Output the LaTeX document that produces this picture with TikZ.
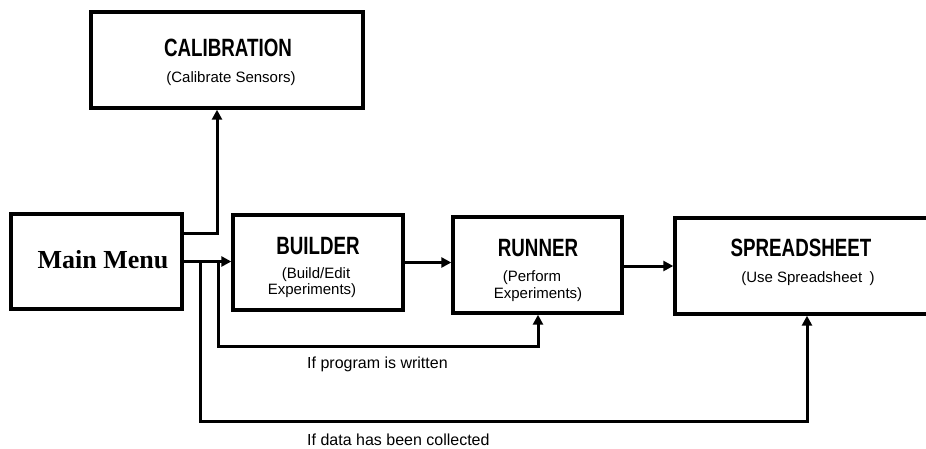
\documentclass[tikz,border=0pt]{standalone}
\usepackage{fontspec}
\setmainfont{Liberation Sans}
\newfontfamily\titlefont[FakeStretch=0.75]{Liberation Sans}
\newfontfamily\menufont{Liberation Serif}
\usetikzlibrary{arrows.meta}
\begin{document}
\begin{tikzpicture}[x=1pt,y=-1pt,
  box/.style={draw, line width=3.4pt, inner sep=0pt},
  conn/.style={line width=3pt},
  arr/.style={conn, -{Triangle[length=10pt,width=10pt]}},
  ttl/.style={anchor=base, inner sep=0pt, font=\titlefont\bfseries\fontsize{25}{25}\selectfont},
  sub/.style={anchor=base, inner sep=0pt, font=\fontsize{15}{15}\selectfont},
  lbl/.style={anchor=base west, inner sep=0pt, font=\fontsize{16}{16}\selectfont}]
\useasboundingbox (0,0) rectangle (926,448);

% boxes
\node[box, minimum width=272pt, minimum height=96pt] (cal) at (227,60) {};
\node[box, minimum width=171pt, minimum height=95pt] (mm) at (96.5,261.5) {};
\node[box, minimum width=170pt, minimum height=95pt] (bld) at (318,262.5) {};
\node[box, minimum width=169pt, minimum height=96pt] (run) at (537.5,265) {};
\node[box, minimum width=262pt, minimum height=96pt] (ss) at (806,266) {};

% texts
\node[ttl] (calT) at (228,56) {CALIBRATION};
\node[sub] (calS) at (231,82) {(Calibrate Sensors)};
\node[anchor=base, inner sep=0pt, font=\menufont\bfseries\fontsize{26}{26}\selectfont] (mmT) at (103,268) {Main Menu};
\node[ttl] (bldT) at (318,254) {BUILDER};
\node[sub] (bldS1) at (316,278) {(Build/Edit};
\node[sub] (bldS2) at (312,294) {Experiments)};
\node[ttl] (runT) at (538,256) {RUNNER};
\node[sub] (runS1) at (532,281) {(Perform};
\node[sub] (runS2) at (538,298) {Experiments)};
\node[ttl] (ssT) at (801,256) {SPREADSHEET};
\node[sub] (ssS) at (808,282) {(Use Spreadsheet\enspace)};

% connectors
\coordinate (j1) at (217,233);
\draw[arr] (mm.east |- j1) -- (j1) -- (j1 |- cal.south);
\draw[arr] (mm.east) -- (mm.east -| bld.west);
\draw[arr] (bld.east) -- (bld.east -| run.west);
\draw[arr] (run.east |- ss.west) -- (ss.west);

\coordinate (f1) at (218,346);
\coordinate (r1) at (538,346);
\draw[arr] (f1 |- mm.east) -- (f1) -- (r1) -- (r1 |- run.south);

\coordinate (f2) at (200,421);
\coordinate (r2) at (807,421);
\draw[arr] (f2 |- mm.east) -- (f2) -- (r2) -- (r2 |- ss.south);

% labels
\node[lbl] (l1) at (307,368) {If program is written};
\node[lbl] (l2) at (307,445) {If data has been collected};
\end{tikzpicture}
\end{document}
